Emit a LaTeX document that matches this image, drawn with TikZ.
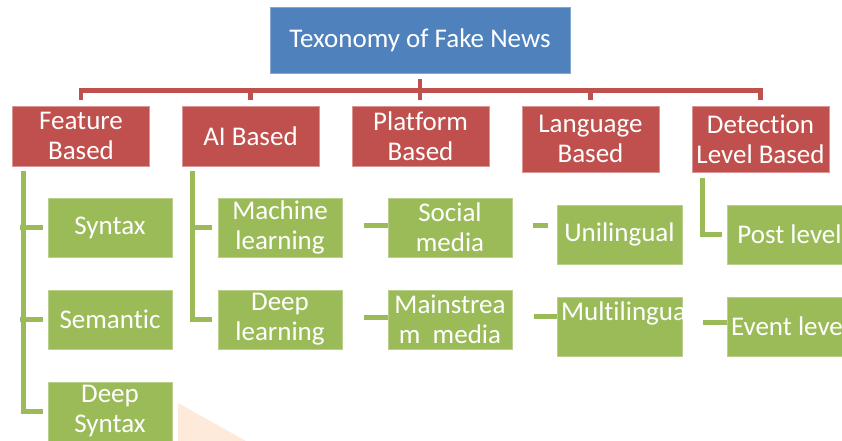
\documentclass[tikz,border=0pt]{standalone}
\usepackage{fontspec}
\setmainfont{Carlito}[Ligatures=NoCommon]
\usetikzlibrary{calc}
\definecolor{cblue}{HTML}{4F81BD}
\definecolor{cred}{HTML}{C0504D}
\definecolor{cgreen}{HTML}{9BBB59}
\definecolor{cpeach}{HTML}{FDEADA}
\begin{document}
\begin{tikzpicture}[x=1pt,y=-1pt,
  box/.style={rectangle, inner sep=0pt, align=center, text=white,
    font=\fontsize{27}{30}\selectfont, line width=0.8pt},
  topbox/.style={box, fill=cblue, draw=cblue!70!white, minimum width=300pt, minimum height=66pt},
  catbox/.style={box, fill=cred, draw=cred!60!white, minimum width=137pt},
  leaf/.style={box, fill=cgreen, draw=cgreen!70!white, minimum width=124pt, minimum height=59pt},
  wleaf/.style={leaf, minimum width=125pt},
  rline/.style={draw=cred, line width=4.5pt},
  gline/.style={draw=cgreen, line width=5pt}]
\useasboundingbox (0,0) rectangle (842,441);
\clip (0,0) rectangle (842,441);

\fill[cpeach] (178,403) -- (178,441) -- (246,441) -- cycle;

% root
\node[topbox] (top) at (420,40) {Texonomy of Fake News};

% categories
\node[catbox, minimum height=60pt] (feat) at (81,136) {Feature\\Based};
\node[catbox, minimum height=60pt] (ai)   at (250.5,136) {AI Based};
\node[catbox, minimum height=60pt] (plat) at (420.5,136) {Platform\\Based};
\node[catbox, minimum height=66pt] (lang) at (590.5,139) {Language\\Based};
\node[catbox, minimum height=66pt] (det)  at (760.5,139) {Detection\\Level Based};

% leaves
\node[leaf] (syn)  at (110,227.5) {Syntax};
\node[leaf] (sem)  at (110,319.5) {Semantic};
\node[leaf] (dsyn) at (110,411.5) {Deep\\Syntax};
\node[leaf] (ml)   at (280,227.5) {Machine\\learning};
\node[leaf] (dl)   at (280,319.5) {Deep\\learning};
\node[leaf] (soc)  at (450,227.5) {Social\\media};
\node[leaf] (mss)  at (450,319.5) {Mainstrea\\m~~media};
\node[wleaf] (uni) at (619.5,234.5) {Unilingual};
\node[wleaf, inner xsep=4pt] (mul) at (619.5,326.5) {\makebox[117pt][l]{Multilingua}\\\mbox{}};
\node[wleaf] (post) at (789.5,234.5) {Post level};
\node[wleaf, inner xsep=4pt] (evt) at (789.5,326.5) {\makebox[117pt][l]{Event leve}};

% red connectors
\coordinate (bar) at ($(top.south)+(0,17)$);
\draw[rline] ($(top.south)+(0,6)$) -- ($(top.south)+(0,27)$);
\draw[rline] ($(feat.north)+(0,-6)$) |- (bar) -| ($(det.north)+(0,-6)$);
\draw[rline] ($(ai.north)+(0,-6)$) -- (ai.north |- bar);
\draw[rline] ($(lang.north)+(0,-6)$) -- (lang.north |- bar);

% green connectors
\draw[gline] ($(feat.south west)+(11,5)$) |- ($(dsyn.west)+(-5,0)$);
\draw[gline] ($(syn.west)+(-5,0)$) -- ++(-22.5,0);
\draw[gline] ($(sem.west)+(-5,0)$) -- ++(-22.5,0);

\draw[gline] ($(ai.south west)+(11,5)$) |- ($(dl.west)+(-6,0)$);
\draw[gline] ($(ml.west)+(-6,0)$) -- ++(-21.5,0);

\draw[gline] ($(soc.west)+(0,-2.5)$) -- ++(-24,0);
\draw[gline] ($(mss.west)+(0,-2.5)$) -- ++(-24,0);

\draw[gline] ($(uni.west)+(-9,-9.5)$) -- ++(-15,0);
\draw[gline] ($(mul.west)+(0,-10.5)$) -- ++(-23,0);

\draw[gline] ($(det.south west)+(11,6)$) |- ($(post.west)+(-5,0)$);
\draw[gline] ($(evt.west)+(0,-4.5)$) -- ++(-24,0);
\end{tikzpicture}
\end{document}
